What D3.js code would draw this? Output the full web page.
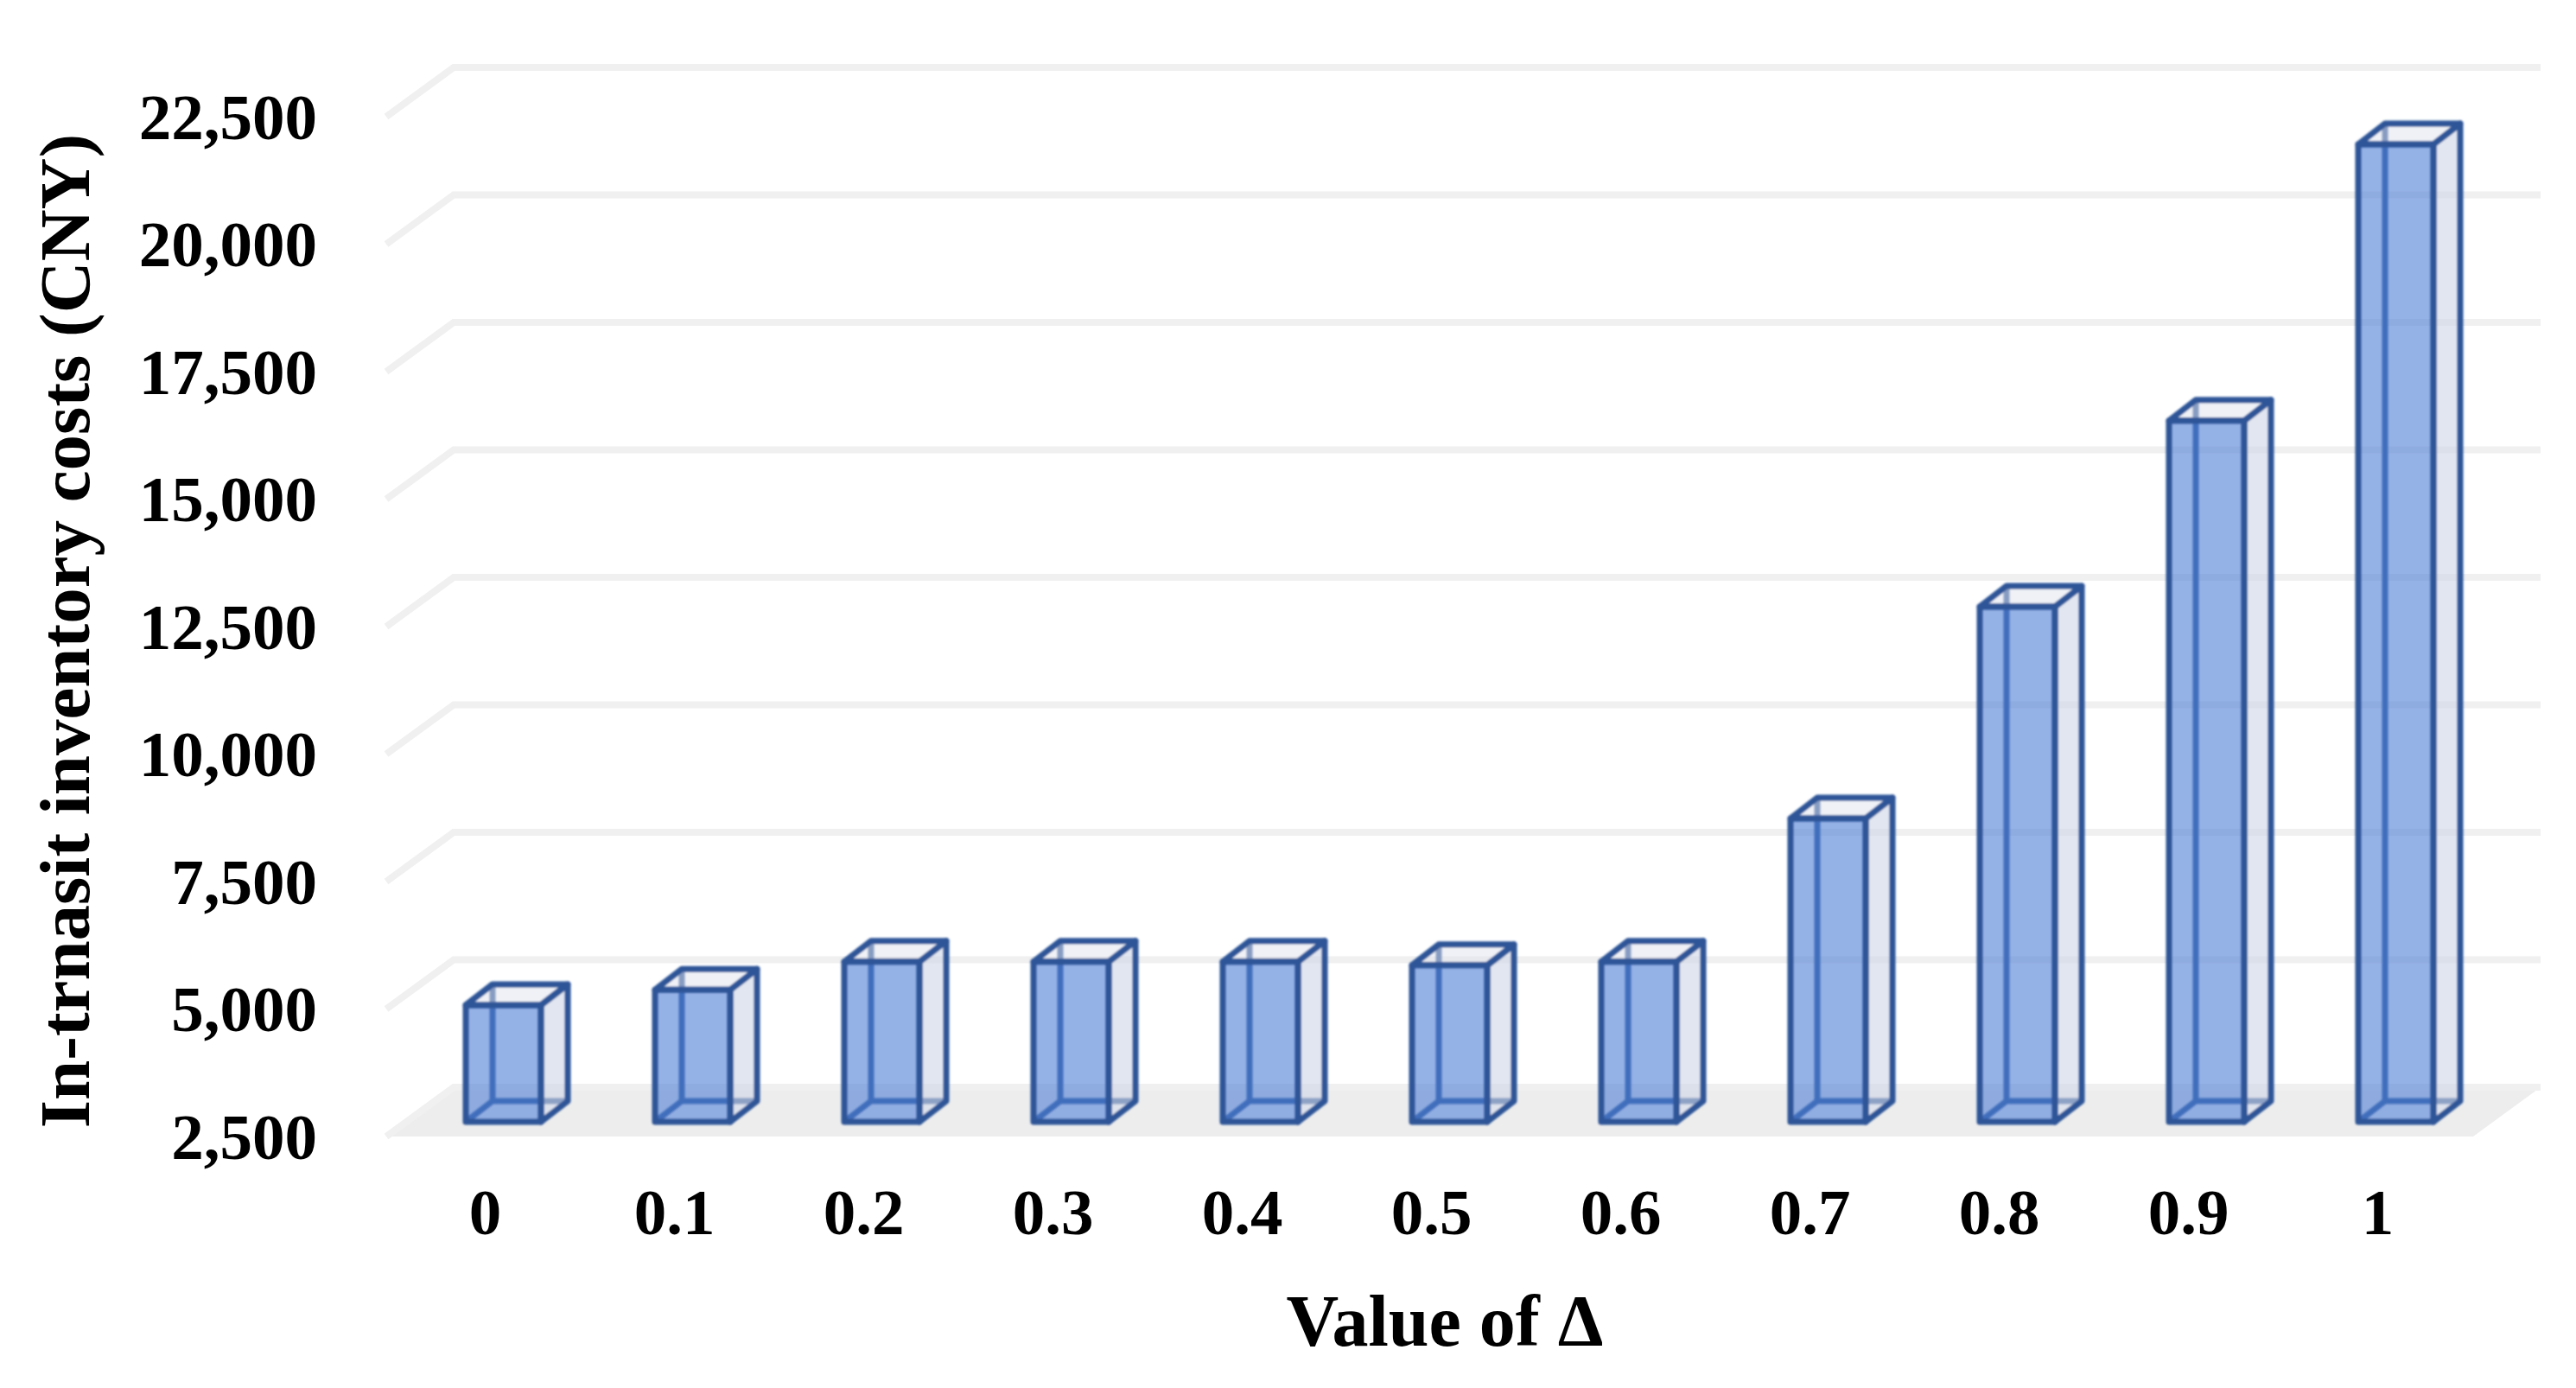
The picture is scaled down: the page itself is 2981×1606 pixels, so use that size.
<!DOCTYPE html>
<html>
<head>
<meta charset="utf-8">
<script src="https://cdn.jsdelivr.net/npm/d3@7"></script>
<style>
html,body{margin:0;padding:0;background:#fff}
svg{display:block}
text{font-family:"Liberation Serif","Times New Roman",serif;font-weight:bold;fill:#000}
</style>
</head>
<body>
<svg id="chart" width="2981" height="1606"></svg>
<script>
const categories = ["0","0.1","0.2","0.3","0.4","0.5","0.6","0.7","0.8","0.9","1"];
const costs = [4790,5090,5640,5640,5640,5570,5640,8450,12600,16250,21670];
const yTicks = [2500,5000,7500,10000,12500,15000,17500,20000,22500];
const xTitle = "Value of Δ";
const yTitle = "In-trnasit inventory costs (CNY)";

const W = 2981, H = 1606;
const svg = d3.select("#chart");
const defs = svg.append("defs");
defs.append("filter").attr("id","soft")
  .attr("x","-10%").attr("y","-10%").attr("width","120%").attr("height","120%")
  .append("feGaussianBlur").attr("stdDeviation",0.8);

const y = d3.scaleLinear().domain([2500,22500]).range([1258,78]);
const x = d3.scaleBand().domain(categories).range([450.5,450.5+219*11]);

const wallLeft = 525, wallRight = 2940, floorLeft = 447, floorRight = 2862, floorDepth = 57;
const line = d3.line();

// floor
svg.append("path")
  .attr("d", line([[floorLeft,y(2500)+floorDepth],[floorRight,y(2500)+floorDepth],[wallRight,y(2500)],[wallLeft,y(2500)]])+"Z")
  .attr("fill","#ededed");

// gridlines on wall and side wall
svg.append("g").selectAll("path").data(yTicks).join("path")
  .attr("d", d => line([[floorLeft,y(d)+floorDepth],[wallLeft,y(d)],[wallRight,y(d)]]))
  .attr("fill","none").attr("stroke","#f0f0f0").attr("stroke-width",8);

// bars
const barW = 87, dx = 31, dy = 24, frontDrop = 40, barShift = -21;
const stroke = "#2f5597", sw = 7;
const bars = svg.append("g").attr("filter","url(#soft)").selectAll("g")
  .data(categories.map((c,i)=>({c,v:costs[i]}))).join("g");

const X = d => x(d.c)+x.bandwidth()/2+barShift;
const TOP = d => y(d.v)+frontDrop;
const BOT = () => y(2500)+frontDrop;

// bottom face
bars.append("path")
  .attr("d", d => line([[X(d),BOT()],[X(d)+barW,BOT()],[X(d)+barW+dx,BOT()-dy],[X(d)+dx,BOT()-dy]])+"Z")
  .attr("fill","#ffffff").attr("fill-opacity",0.45);
// back edges
bars.append("path")
  .attr("d", d => line([[X(d),BOT()],[X(d)+dx,BOT()-dy],[X(d)+barW+dx,BOT()-dy]])
     + line([[X(d)+dx,BOT()-dy],[X(d)+dx,TOP(d)-dy]]))
  .attr("fill","none").attr("stroke",stroke).attr("stroke-width",sw);
// right face
bars.append("path")
  .attr("d", d => line([[X(d)+barW,TOP(d)],[X(d)+barW+dx,TOP(d)-dy],[X(d)+barW+dx,BOT()-dy],[X(d)+barW,BOT()]])+"Z")
  .attr("fill","#cfd5e6").attr("fill-opacity",0.6)
  .attr("stroke",stroke).attr("stroke-width",sw).attr("stroke-linejoin","round");
// top face
bars.append("path")
  .attr("d", d => line([[X(d),TOP(d)],[X(d)+dx,TOP(d)-dy],[X(d)+barW+dx,TOP(d)-dy],[X(d)+barW,TOP(d)]])+"Z")
  .attr("fill","#dfe3ee").attr("fill-opacity",0.5)
  .attr("stroke",stroke).attr("stroke-width",sw).attr("stroke-linejoin","round");
// front face
bars.append("rect")
  .attr("x",X).attr("y",TOP).attr("width",barW).attr("height",d=>BOT()-TOP(d))
  .attr("fill","#4e7fd5").attr("fill-opacity",0.6);
bars.append("rect")
  .attr("x",X).attr("y",TOP).attr("width",barW).attr("height",d=>BOT()-TOP(d))
  .attr("fill","none").attr("stroke",stroke).attr("stroke-width",sw).attr("stroke-linejoin","round");

// axes
const yAxis = d3.axisLeft(y).tickValues(yTicks).tickFormat(d3.format(",")).tickSize(0).tickPadding(0);
const gy = svg.append("g").attr("transform","translate(367,0)").call(yAxis);
gy.select(".domain").remove();
gy.selectAll("text").attr("font-size",75).attr("dy",82);

const xAxis = d3.axisBottom(x).tickSize(0).tickPadding(0);
const gx = svg.append("g").attr("transform","translate(1.5,1428)").call(xAxis);
gx.select(".domain").remove();
gx.selectAll("text").attr("font-size",75).attr("y",0).attr("dy",0);
svg.selectAll("g[font-family]").attr("font-family",null);
svg.selectAll("g[font-size]").attr("font-size",null);

// titles
svg.append("text").attr("x",1672).attr("y",1557).attr("text-anchor","middle")
  .attr("font-size",84).text(xTitle);
svg.append("text").attr("transform","translate(103,730) rotate(-90)").attr("text-anchor","middle")
  .attr("font-size",83).text(yTitle);
</script>
</body>
</html>
